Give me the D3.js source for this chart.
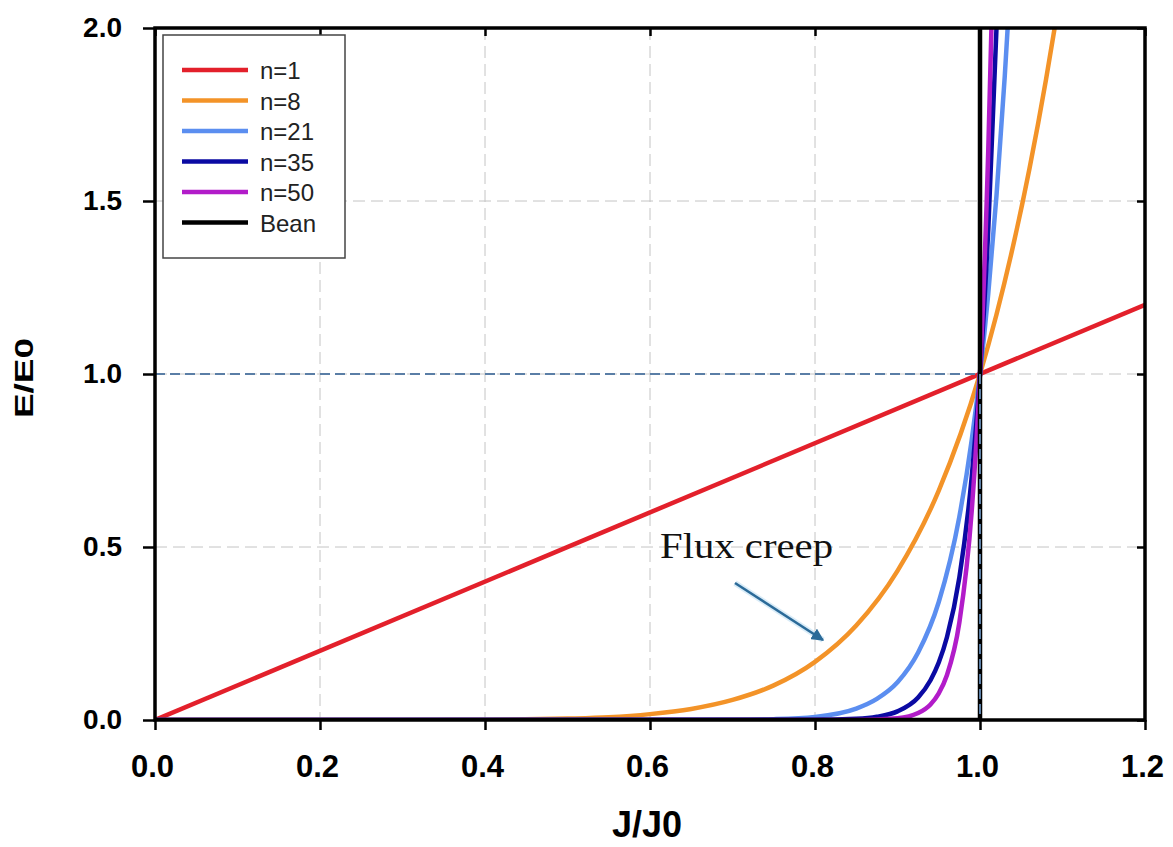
<!DOCTYPE html>
<html><head><meta charset="utf-8">
<script src="https://cdn.jsdelivr.net/npm/d3@7"></script>
<style>body{margin:0;background:#fff;} svg{display:block;}</style>
</head><body>
<svg id="c" width="1173" height="847"></svg>
<script>
// ---- data ----
const xTicks = [0.0, 0.2, 0.4, 0.6, 0.8, 1.0, 1.2];
const yTicks = [0.0, 0.5, 1.0, 1.5, 2.0];
const seriesNames = ["n=1", "n=8", "n=21", "n=35", "n=50", "Bean"];
const seriesColors = ["#e3202b", "#f39328", "#5b8ef0", "#0b0aa3", "#b21cc9", "#000000"];

const n1J = [0.0, 1.2];
const n1E = [0.0, 1.2];

const n8J = [0.0, 0.3, 0.4, 0.5, 0.55, 0.6, 0.65, 0.7, 0.75, 0.8, 0.85, 0.9, 0.95, 1.0, 1.02, 1.04, 1.06, 1.08, 1.09, 1.095];
const n8E = [0.0, 0.0001, 0.0007, 0.004, 0.008, 0.017, 0.032, 0.058, 0.100, 0.168, 0.273, 0.431, 0.663, 1.0, 1.172, 1.369, 1.594, 1.851, 1.993, 2.069];

const n21J = [0.0, 0.7, 0.75, 0.8, 0.85, 0.875, 0.9, 0.925, 0.95, 0.975, 0.99, 1.0, 1.01, 1.02, 1.03, 1.035];
const n21E = [0.0, 0.0006, 0.0024, 0.009, 0.033, 0.061, 0.109, 0.195, 0.341, 0.588, 0.81, 1.0, 1.232, 1.516, 1.860, 2.059];

const n35J = [0.0, 0.8, 0.85, 0.875, 0.9, 0.925, 0.94, 0.95, 0.96, 0.975, 0.99, 1.0, 1.01, 1.02, 1.021];
const n35E = [0.0, 0.0004, 0.0034, 0.0093, 0.025, 0.065, 0.115, 0.166, 0.240, 0.412, 0.704, 1.0, 1.417, 2.0, 2.07];

const n50J = [0.0, 0.85, 0.9, 0.925, 0.94, 0.95, 0.96, 0.975, 0.99, 1.0, 1.01, 1.015];
const n50E = [0.0, 0.0003, 0.005, 0.020, 0.045, 0.077, 0.130, 0.282, 0.605, 1.0, 1.645, 2.105];

const beanJ = [0.0, 1.0, 1.0];
const beanE = [0.0, 0.0, 2.0];

const refJ = [0.0, 1.0, 1.0];
const refE = [1.0, 1.0, 0.0];

const annotation = "Flux creep";
const xTitle = "J/J0";
const yTitle = "E/E0";

// ---- drawing ----
const svg = d3.select("#c");
const L = 155, R = 1145, T = 28, B = 720;
const x = d3.scaleLinear().domain([0, 1.2]).range([L, R]);
const y = d3.scaleLinear().domain([0, 2]).range([B, T]);
const sans = "Liberation Sans, Arial, sans-serif";

const defs = svg.append("defs");
defs.append("clipPath").attr("id", "clip")
  .append("rect").attr("x", L).attr("y", T).attr("width", R - L).attr("height", B - T);

// grid
const g = svg.append("g");
g.selectAll(".gx").data(xTicks.filter(d => d > 0 && d < 1.2)).enter().append("line")
  .attr("x1", d => x(d)).attr("x2", d => x(d)).attr("y1", T).attr("y2", B)
  .attr("stroke", "#c4c4c4").attr("stroke-width", 1).attr("stroke-dasharray", "12,6");
g.selectAll(".gy").data(yTicks.filter(d => d > 0 && d < 2)).enter().append("line")
  .attr("x1", L).attr("x2", R).attr("y1", d => y(d)).attr("y2", d => y(d))
  .attr("stroke", "#c4c4c4").attr("stroke-width", 1).attr("stroke-dasharray", "12,6");

// series
const seriesJ = [n1J, n8J, n21J, n35J, n50J, beanJ];
const seriesE = [n1E, n8E, n21E, n35E, n50E, beanE];
const line = d3.line().x(d => x(d[0])).y(d => y(d[1])).curve(d3.curveMonotoneX);
const lineStraight = d3.line().x(d => x(d[0])).y(d => y(d[1]));
const plot = svg.append("g").attr("clip-path", "url(#clip)");
seriesNames.forEach((name, i) => {
  const pts = seriesJ[i].map((j, k) => [j, seriesE[i][k]]);
  plot.append("path").datum(pts)
    .attr("d", name === "Bean" || name === "n=1" ? lineStraight : line)
    .attr("fill", "none").attr("stroke", seriesColors[i])
    .attr("stroke-width", 4.5).attr("stroke-linejoin", "round");
});

// reference dashed line at E/E0 = 1, J/J0 = 1
plot.append("path").datum(refJ.map((j, k) => [j, refE[k]]))
  .attr("d", lineStraight).attr("fill", "none")
  .attr("stroke", "#5a7ea6").attr("stroke-width", 2).attr("stroke-dasharray", "10,5");

// frame
svg.append("rect").attr("x", L).attr("y", T).attr("width", R - L).attr("height", B - T)
  .attr("fill", "none").attr("stroke", "#000").attr("stroke-width", 3.5);

// axes
const xAxis = d3.axisBottom(x).tickValues(xTicks).tickFormat(d3.format(".1f")).tickSizeOuter(0).tickSizeInner(10).tickPadding(25);
const xa = svg.append("g").attr("transform", `translate(0,${B})`).call(xAxis);
xa.select(".domain").remove();
xa.selectAll("line").attr("stroke", "#000").attr("stroke-width", 2.5);
xa.selectAll("text").attr("font-family", sans).attr("font-weight", "bold")
  .attr("font-size", 31).attr("fill", "#000")
  .attr("transform", "translate(-3,0)");

const yAxis = d3.axisLeft(y).tickValues(yTicks).tickFormat(d3.format(".1f")).tickSizeOuter(0).tickSizeInner(12).tickPadding(21);
const ya = svg.append("g").attr("transform", `translate(${L},0)`).call(yAxis);
ya.select(".domain").remove();
ya.selectAll("line").attr("stroke", "#000").attr("stroke-width", 2.5);
ya.selectAll("text").attr("font-family", sans).attr("font-weight", "bold")
  .attr("font-size", 28).attr("fill", "#000");

// inner ticks on top and right
const xTop = d3.axisBottom(x).tickValues(xTicks).tickFormat("").tickSizeOuter(0).tickSizeInner(8);
const xt = svg.append("g").attr("transform", `translate(0,${T})`).call(xTop);
xt.select(".domain").remove();
xt.selectAll("line").attr("stroke", "#000").attr("stroke-width", 2.5);
const yRight = d3.axisRight(y).tickValues(yTicks).tickFormat("").tickSizeOuter(0).tickSizeInner(-8);
const yr = svg.append("g").attr("transform", `translate(${R},0)`).call(yRight);
yr.select(".domain").remove();
yr.selectAll("line").attr("stroke", "#000").attr("stroke-width", 2.5);

// titles
svg.append("text").attr("x", 647).attr("y", 837).attr("text-anchor", "middle")
  .attr("font-family", sans).attr("font-weight", "bold")
  .attr("font-size", 36).text(xTitle);
svg.append("text").attr("transform", `translate(33,378) rotate(-90)`).attr("text-anchor", "middle")
  .attr("font-family", sans).attr("font-weight", "bold")
  .attr("font-size", 26).attr("textLength", 80).attr("lengthAdjust", "spacingAndGlyphs").text(yTitle);

// legend
const lg = svg.append("g");
lg.append("rect").attr("x", 163).attr("y", 35).attr("width", 182).attr("height", 223)
  .attr("fill", "#fff").attr("stroke", "#444").attr("stroke-width", 1.5);
seriesNames.forEach((name, i) => {
  const yy = 70 + i * 30.5;
  lg.append("line").attr("x1", 182).attr("x2", 248).attr("y1", yy).attr("y2", yy)
    .attr("stroke", seriesColors[i]).attr("stroke-width", 4.5);
  lg.append("text").attr("x", 260).attr("y", yy + 9)
    .attr("font-family", sans).attr("font-size", 24)
    .attr("fill", "#222").text(name);
});

// annotation
svg.append("text").attr("x", 660).attr("y", 558)
  .attr("font-family", "Liberation Serif, Times New Roman, serif").attr("font-size", 35)
  .attr("textLength", 173).attr("lengthAdjust", "spacingAndGlyphs")
  .attr("fill", "#111").text(annotation);
defs.append("marker").attr("id", "arr").attr("viewBox", "0 0 10 10").attr("refX", 9).attr("refY", 5)
  .attr("markerWidth", 5).attr("markerHeight", 5).attr("orient", "auto")
  .append("path").attr("d", "M0,0 L10,5 L0,10 Z").attr("fill", "#2b6a98");
svg.append("line").attr("x1", 735).attr("y1", 583).attr("x2", 823).attr("y2", 640)
  .attr("stroke", "#bfe0f4").attr("stroke-width", 6).attr("stroke-opacity", 0.6);
svg.append("line").attr("x1", 735).attr("y1", 583).attr("x2", 823).attr("y2", 640)
  .attr("stroke", "#2b6a98").attr("stroke-width", 2.5).attr("marker-end", "url(#arr)");
</script>
</body></html>
